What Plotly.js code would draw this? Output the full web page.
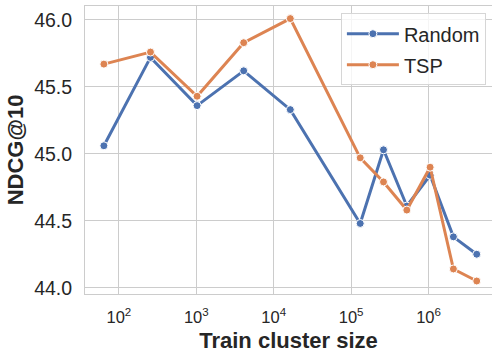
<!DOCTYPE html>
<html>
<head>
<meta charset="utf-8">
<script src="https://cdn.plot.ly/plotly-3.0.1.min.js"></script>
<style>html,body{margin:0;padding:0;background:#fff;}#chart{width:492px;height:353px;}</style>
</head>
<body>
<div id="chart"></div>
<script>
const clusterSizes = [64, 256, 1024, 4096, 16384, 131072, 262144, 524288, 1048576, 2097152, 4194304];
const randomNdcg = [45.06, 45.72, 45.36, 45.62, 45.33, 44.48, 45.03, 44.61, 44.84, 44.38, 44.25];
const tspNdcg = [45.67, 45.76, 45.43, 45.83, 46.01, 44.97, 44.79, 44.58, 44.90, 44.14, 44.05];
const xTickVals = [100, 1000, 10000, 100000, 1000000];
const xTickText = ['10<sup>2</sup>', '10<sup>3</sup>', '10<sup>4</sup>', '10<sup>5</sup>', '10<sup>6</sup>'];
const yTickVals = [44.0, 44.5, 45.0, 45.5, 46.0];
const yTickText = ['44.0', '44.5', '45.0', '45.5', '46.0'];

function series(name, y, color) {
  return {
    x: clusterSizes, y: y, name: name, type: 'scatter', mode: 'lines+markers',
    legendgroup: name,
    line: {color: color, width: 3},
    marker: {color: color, size: 8, line: {color: '#ffffff', width: 1}}
  };
}

const data = [
  series('Random', randomNdcg, '#4c72b0'),
  series('TSP', tspNdcg, '#dd8452')
];

const layout = {
  width: 492, height: 353,
  margin: {l: 85, r: 0, t: 6, b: 59},
  paper_bgcolor: '#ffffff', plot_bgcolor: '#ffffff',
  font: {family: 'Liberation Sans, Arial, sans-serif', color: '#262626'},
  showlegend: true,
  legend: {
    x: 0.985, y: 0.975, xanchor: 'right', yanchor: 'top',
    bgcolor: 'rgba(255,255,255,0.8)', bordercolor: '#d6d6d6', borderwidth: 1,
    font: {size: 20, color: '#262626'}, itemwidth: 52, tracegroupgap: 2
  },
  xaxis: {
    type: 'log', range: [Math.log10(36.5), 6.82],
    tickvals: xTickVals, ticktext: xTickText,
    tickfont: {size: 16.5, color: '#262626'},
    showgrid: true, gridcolor: '#cccccc', gridwidth: 1,
    showline: true, linecolor: '#cccccc', linewidth: 1, mirror: true,
    zeroline: false, ticks: '', ticklabelstandoff: 8,
    title: {text: '<b>Train cluster size</b>', font: {size: 22, color: '#262626'}, standoff: 13}
  },
  yaxis: {
    range: [43.953, 46.104],
    tickvals: yTickVals, ticktext: yTickText,
    tickfont: {size: 19.5, color: '#262626'},
    showgrid: true, gridcolor: '#cccccc', gridwidth: 1,
    showline: true, linecolor: '#cccccc', linewidth: 1, mirror: true,
    zeroline: false, ticks: '', ticklabelstandoff: 8,
    title: {text: '<b>NDCG@10</b>', font: {size: 22, color: '#262626'}, standoff: 4}
  }
};

Plotly.newPlot('chart', data, layout, {displayModeBar: false, staticPlot: true});
</script>
</body>
</html>
